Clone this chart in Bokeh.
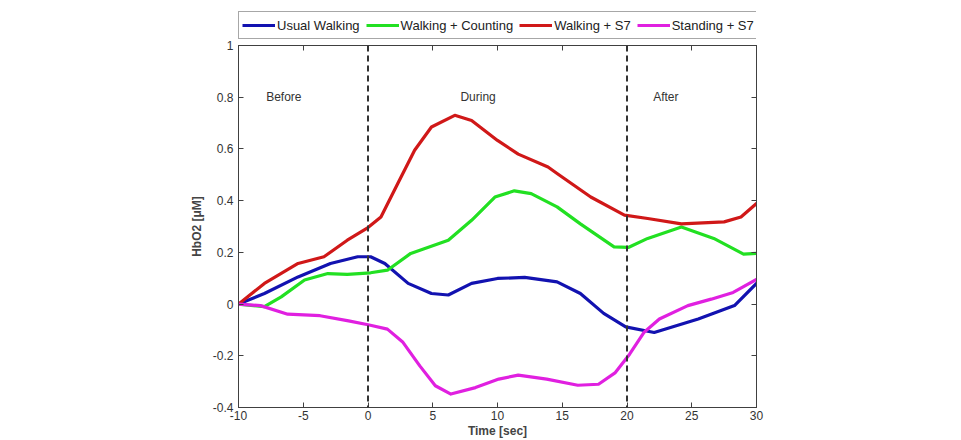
from bokeh.plotting import figure
from bokeh.layouts import column
from bokeh.models import (Span, Legend, LegendItem, LinearAxis, FixedTicker,
                          ColumnDataSource, Label)
from bokeh.embed import file_html
from bokeh.resources import INLINE

# HbO2 change over time for each walking / standing condition
t_usual = [-10, -8.0, -5.4, -2.9, -0.8, 0.2, 1.3, 3.1, 4.9, 6.2, 8.0, 10.0, 12.1,
           14.6, 16.4, 18.2, 19.9, 22.1, 25.5, 28.3, 30]
hbo2_usual = [0, 0.041, 0.105, 0.157, 0.183, 0.183, 0.157, 0.08, 0.041, 0.035, 0.08,
              0.099, 0.103, 0.086, 0.041, -0.036, -0.088, -0.11, -0.058, -0.006, 0.08]

t_count = [-10, -8.0, -6.7, -4.9, -3.1, -1.6, 0.2, 1.5, 3.3, 6.2, 8.0, 9.8, 11.3,
           12.6, 14.6, 16.4, 19.0, 20.1, 21.6, 24.2, 26.7, 29.0, 30]
hbo2_count = [0, -0.01, 0.028, 0.093, 0.118, 0.115, 0.121, 0.131, 0.196, 0.247, 0.324,
              0.414, 0.438, 0.427, 0.376, 0.31, 0.221, 0.219, 0.254, 0.298, 0.254,
              0.193, 0.196]

t_walk_s7 = [-10, -8.0, -5.4, -3.4, -1.6, 0, 1.0, 2.3, 3.6, 4.9, 6.7, 8.0, 10.0,
             11.6, 13.9, 14.6, 17.2, 19.8, 21.6, 24.2, 27.5, 28.8, 30]
hbo2_walk_s7 = [0, 0.08, 0.157, 0.183, 0.247, 0.296, 0.337, 0.466, 0.595, 0.685,
                0.73, 0.71, 0.633, 0.58, 0.53, 0.505, 0.414, 0.344, 0.331, 0.31,
                0.318, 0.337, 0.389]

t_stand_s7 = [-10, -8.3, -6.2, -3.7, -1.5, 0.1, 1.5, 2.7, 4.0, 5.2, 6.4, 8.3, 10.1,
              11.6, 13.8, 16.2, 17.8, 19.1, 20.2, 21.3, 22.5, 24.7, 26.5, 28.2, 30]
hbo2_stand_s7 = [0, -0.006, -0.039, -0.045, -0.065, -0.081, -0.097, -0.148, -0.239,
                 -0.316, -0.348, -0.323, -0.29, -0.275, -0.29, -0.314, -0.31, -0.265,
                 -0.194, -0.11, -0.058, -0.006, 0.019, 0.045, 0.095]

series_names = ["Usual Walking", "Walking + Counting", "Walking + S7", "Standing + S7"]
series_colors = ["#1212b0", "#22e022", "#d01818", "#e020e0"]

phase_names = ["Before", "During", "After"]
phase_x = [-6.5, 8.5, 23.0]
phase_y = 0.8
phase_bounds = [0, 20]

x_ticks = [-10, -5, 0, 5, 10, 15, 20, 25, 30]
y_ticks = [-0.4, -0.2, 0, 0.2, 0.4, 0.6, 0.8, 1]
y_tick_labels = ["-0.4", "-0.2", "0", "0.2", "0.4", "0.6", "0.8", "1"]

FONT = "Liberation Sans"
AXIS_GREY = "#404040"
LEFT = 238

p = figure(output_backend="svg", toolbar_location=None,
           x_range=(-10, 30), y_range=(-0.4, 1),
           min_border_left=LEFT, min_border_right=205, min_border_top=5,
           min_border_bottom=33, frame_width=518, frame_height=362)
p.grid.visible = False
p.outline_line_color = AXIS_GREY
p.outline_line_width = 1
p.background_fill_color = "white"
p.border_fill_color = "white"


def style_axis(ax, ticks, labels):
    ax.ticker = FixedTicker(ticks=ticks)
    ax.major_label_overrides = dict(zip(ticks, labels))
    ax.axis_line_color = AXIS_GREY
    ax.major_tick_line_color = AXIS_GREY
    ax.major_tick_in = 5
    ax.major_tick_out = 0
    ax.minor_tick_line_color = None
    ax.major_label_text_font = FONT
    ax.major_label_text_font_size = "12px"
    ax.major_label_text_color = "#333333"


xa = p.xaxis[0]
style_axis(xa, x_ticks, [str(v) for v in x_ticks])
xa.major_label_standoff = 3
xa.axis_label = "Time [sec]"
xa.axis_label_text_font = FONT
xa.axis_label_text_font_style = "bold"
xa.axis_label_text_font_size = "12px"
xa.axis_label_standoff = 1

ya = p.yaxis[0]
style_axis(ya, y_ticks, y_tick_labels)
ya.major_label_standoff = 5
ya.axis_label = "HbO2 [\u03bcM]"
ya.axis_label_text_font = FONT
ya.axis_label_text_font_style = "bold"
ya.axis_label_text_font_size = "12px"
ya.axis_label_standoff = 6

# mirrored tick marks on the top and right edges of the box
top_ax = LinearAxis()
style_axis(top_ax, x_ticks, [""] * len(x_ticks))
top_ax.major_label_standoff = 0
p.add_layout(top_ax, "above")
right_ax = LinearAxis()
style_axis(right_ax, y_ticks, [""] * len(y_ticks))
right_ax.major_label_standoff = 0
p.add_layout(right_ax, "right")

series = zip([t_usual, t_count, t_walk_s7, t_stand_s7],
             [hbo2_usual, hbo2_count, hbo2_walk_s7, hbo2_stand_s7],
             series_colors)
for xs, ys, color in series:
    src = ColumnDataSource(dict(x=xs, y=ys))
    p.line("x", "y", source=src, line_color=color, line_width=3.2,
           line_join="round", line_cap="round")

for b in phase_bounds:
    p.add_layout(Span(location=b, dimension="height", line_color="#333333",
                      line_width=2, line_dash="6 4"))

for name, xp in zip(phase_names, phase_x):
    p.add_layout(Label(x=xp, y=phase_y, text=name, text_align="center",
                       text_baseline="middle", text_font=FONT,
                       text_font_size="12px", text_color="#333333"))

# strip above the chart that carries the legend box; its frame lines up
# with the chart's frame inside the column layout
leg_fig = figure(width=961, height=40, output_backend="svg", toolbar_location=None,
                 x_axis_location=None, y_axis_location=None,
                 min_border=0, x_range=(0, 1), y_range=(0, 1))
leg_fig.grid.visible = False
leg_fig.outline_line_color = None
leg_fig.border_fill_color = "white"
leg_items = []
for name, color in zip(series_names, series_colors):
    # legend handle only: its points lie outside the strip's visible range
    r = leg_fig.line(x=[5, 6], y=[5, 5], line_color=color, line_width=3.2)
    leg_items.append(LegendItem(label=name, renderers=[r]))

legend = Legend(items=leg_items, orientation="horizontal", location=(0, 1),
                label_text_font=FONT, label_text_font_size="13px",
                label_text_color="#222222", glyph_width=33,
                label_standoff=2, spacing=6, padding=3, margin=0,
                border_line_color="#505050",
                border_line_width=1, background_fill_alpha=1)
leg_fig.add_layout(legend, "center")

layout = column(leg_fig, p, spacing=0)
open("out.html", "w").write(file_html(layout, INLINE))
